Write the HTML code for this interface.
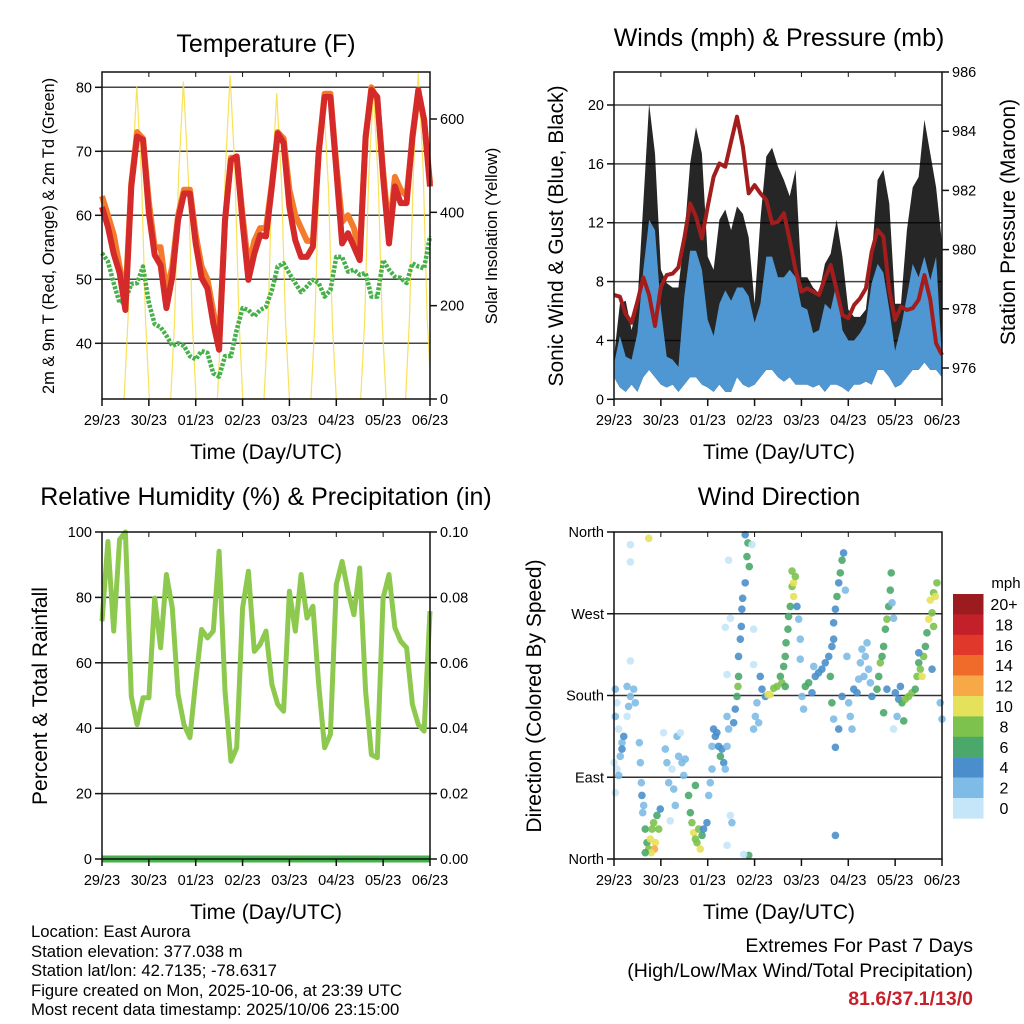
<!DOCTYPE html>
<html><head><meta charset="utf-8"><title>Weather station 7-day summary</title>
<style>
html,body{margin:0;padding:0;background:#fff;}
svg{display:block;font-family:"Liberation Sans",Arial,sans-serif;}
</style></head>
<body>
<svg id="chart" width="1024" height="1024" viewBox="0 0 1024 1024" xmlns="http://www.w3.org/2000/svg">
<g id="layer"></g>
<text x="266" y="52" font-size="25" text-anchor="middle">Temperature (F)</text>
<text x="779" y="46" font-size="25" text-anchor="middle">Winds (mph) &amp; Pressure (mb)</text>
<text x="266" y="505" font-size="25" text-anchor="middle">Relative Humidity (%) &amp; Precipitation (in)</text>
<text x="779" y="505" font-size="25" text-anchor="middle">Wind Direction</text>
<text x="266" y="459" font-size="21" text-anchor="middle">Time (Day/UTC)</text>
<text x="779" y="459" font-size="21" text-anchor="middle">Time (Day/UTC)</text>
<text x="266" y="919" font-size="21" text-anchor="middle">Time (Day/UTC)</text>
<text x="779" y="919" font-size="21" text-anchor="middle">Time (Day/UTC)</text>
<text transform="translate(54,236) rotate(-90)" font-size="16.4" text-anchor="middle">2m &amp; 9m T (Red, Orange) &amp; 2m Td (Green)</text>
<text transform="translate(497,236) rotate(-90)" font-size="16.5" text-anchor="middle">Solar Insolation (Yellow)</text>
<text transform="translate(563,236) rotate(-90)" font-size="21" text-anchor="middle">Sonic Wind &amp; Gust (Blue, Black)</text>
<text transform="translate(1015,222) rotate(-90)" font-size="21" text-anchor="middle">Station Pressure (Maroon)</text>
<text transform="translate(47,696) rotate(-90)" font-size="21" text-anchor="middle">Percent &amp; Total Rainfall</text>
<text transform="translate(541,696) rotate(-90)" font-size="21" text-anchor="middle">Direction (Colored By Speed)</text>
<g font-size="16.7">
<text x="31" y="937">Location: East Aurora</text>
<text x="31" y="957">Station elevation: 377.038 m</text>
<text x="31" y="976">Station lat/lon: 42.7135; -78.6317</text>
<text x="31" y="996">Figure created on Mon, 2025-10-06, at 23:39 UTC</text>
<text x="31" y="1015">Most recent data timestamp: 2025/10/06 23:15:00</text>
</g>
<text x="973" y="952" font-size="19.5" text-anchor="end">Extremes For Past 7 Days</text>
<text x="973" y="977" font-size="19.5" text-anchor="end">(High/Low/Max Wind/Total Precipitation)</text>
<text x="973" y="1005" font-size="19.5" font-weight="bold" fill="#c8202a" text-anchor="end">81.6/37.1/13/0</text>
<text x="1006" y="588" font-size="15" text-anchor="middle">mph</text>
</svg>
<script>
// ---------- data ----------
const dayLabels = ["29/23","30/23","01/23","02/23","03/23","04/23","05/23","06/23"];
const tempHourStep = 3;
const temp2m = [61.3,58.2,54,51,45.2,64.5,72.3,71.8,60.3,53.8,52.2,45.5,50.4,59.3,63.4,63.4,55.6,50.2,48.6,43.1,39,59.3,68.6,69.2,58.8,49.9,54,56.9,56.7,64.5,72.8,71.3,61.3,56.1,53.5,53.5,55.1,69.7,78.5,78.5,67.1,55.6,57.2,55.1,53,72.3,79.6,78.5,66,55.6,64.5,61.9,61.9,72.3,79.6,74.9,64.5];
const temp9m = [63,60,57,52,47,65,73,72,62,55,55,48,52,60,64,64,57,52,50,45,40,59,69,69,60,52,56,58,58,65,73,72,64,60,58,56,56,70,79,79,68,59,60,58,54,72,80,78,67,57,66,64,63,72,79,75,65];
const dew2m = [54.1,52.8,49.4,46.3,46.8,49.3,49.4,52,46.3,43,42.5,41.2,39.6,40,39.6,38,37.5,38.8,38.5,35.3,34.8,38,38,42.1,45.5,45.2,44.2,45.2,45.7,48.3,52,52.5,50.9,49.4,48,48.9,49.9,49.4,47.3,48.3,53.5,53.5,51.2,51.5,50.7,51,47.3,47.3,53,51.5,50.4,50.2,49.4,52.5,52,51.7,56.7];
const solarHours = [11.3,13.3,15.3,17.8,20.3,22.3,24.3, 35.2,37.2,39.2,41.7,44.2,46.2,48.2, 59.1,61.1,63.1,65.6,68.1,70.1,72.1, 83,85,87,89.5,92,94,96, 107,109,111,113.5,116,118,120, 132.5,134.5,136.5,139,141.5,143.5,145.5, 155.5,157.5,159.5,162,164.5,166.5,168];
const solarValues = [0,170,470,669,470,170,0, 0,170,475,680,475,170,0, 0,175,485,694,485,175,0, 0,165,460,655,460,165,0, 0,160,450,644,450,160,0, 0,165,465,662,465,165,0, 0,175,490,698,490,175,60];
const windHourStep = 3;
const pressure = [978.47,978.41,977.82,977.53,978.24,979.06,978.47,977.42,978.75,979.14,979.19,979.4,980.38,981.56,981.11,980.38,981.45,982.46,982.91,982.8,983.65,984.49,983.48,981.9,982.18,981.9,981.68,980.89,980.94,981.23,980.32,979.31,978.58,978.69,978.58,978.47,979.03,979.48,978.64,977.79,977.68,978.13,978.35,978.69,979.93,980.66,980.44,978.64,977.62,978.07,977.96,978.02,978.3,979.14,978.3,976.83,976.44];
const windTop = [2.4,4.3,2.9,2.7,4.5,8.8,12.2,11.5,6.1,2.9,2.7,2.2,7,10.1,10.1,8.8,5.4,4.3,6.5,7.4,6.7,7.6,7.6,7,5.2,6.5,9.7,9.7,8.3,8.3,8.8,8.3,6.3,6.1,4.5,4.7,6.5,6.1,7.9,4.7,4,4,4.5,5.2,7.9,9.2,8.6,6.1,3.3,4.9,7,9.2,8.3,9.7,8.1,9.7,2.7];
const windLow = [1.5,0.8,0.5,1,0.5,1.5,2,1.5,1,0.8,1,0.5,1,1.5,1.5,1,0.8,0.5,1,0.5,0.5,1.5,1,0.8,1,1.5,2,2,1.5,1.2,1.5,1,1,1,0.8,1,0.5,1,1,0.8,0.5,1,1,1.2,1,2,2,1.5,0.8,1,1.5,2,2,2.5,2,2,1.5];
const gustTop = [2.9,6.5,6.7,4.7,6.5,13.3,20.1,16.7,8.8,7.9,7.6,7.6,11,16,18.5,16.7,9.7,8.8,12.2,12.9,11.5,13.1,12.6,11,6.5,12.2,16.5,17.1,15.8,14.9,13.8,15.6,8.3,8.3,7.6,7.2,9.2,9.9,12.2,9.7,6.1,5.6,5.6,6.1,9.7,14.9,15.6,13.3,6.5,6.5,11.5,14.4,15.1,19,16.7,14.4,10.6];
const rhHourStep = 3;
const relHum = [72.7,97.1,69.7,97.7,100,49.8,41.1,49.3,49.3,79.8,64.6,87,76.8,50.3,41.1,37.1,54.4,70.2,67.6,69.7,94.1,51.3,29.9,34,76.8,88,63.5,65.6,69.7,53.4,47.3,45.2,81.9,69.7,87,73.7,77.3,53.4,34,38.1,83.9,91,81.9,74.7,89,51.3,31.9,31,79.8,87,70.7,66.6,64.6,47.3,41.1,39.1,75.8];
const precip = [0,0,0,0,0,0,0,0];
const dirHours = [0.7,1.5,0.7,2.4,0,1.5,3.2,4.1,5,4.1,2.4,0.7, 6.7,8.4,10.1,7.5,10.9,6.7,8.4,8.4,17.8,8.4, 13,13.5,14,14.3,14.7,15.2, 16,16.9,17.8,18.6,19.5,20.3,21.2,20.7,22,22.9,23.7,19.1,16, 25.4,26.3,27.1,28,29.7,30.6,31.4,28.8,32.3,33.1,34,34.8,35.7,36.5, 38.2,39.1,39.9,40.8,41.7,42.5,43.4,44.2,45.1,41.7,45.9,47.6,48.5,49.3,50.2,50.2, 51,51.9,52.7,53.6,54.5,55.3,56.2,57,57.9,58.7,57.9,59.6,60.4,57.9,58.7,57.9,57,59.6, 61.3,62.1,63,63.5,63.8,63.8,64.7,65.2,65.5,65.9,67.2,68.1,68.6,69.3,67.2,70.7,69,66.4,71.5,71.5, 71.5,72.4,73.2,74.9,75.8,77.5,78.9,80,74.1, 81.8,83.5,85.2,86,86.9,87.7,88.1,89.1,89.4,90.3,91.2,92,92,91.2,92.9,93.7,94.6,95.4,95.4,87.7, 96.3,97.1,98,99.7,101.4,103.1,104.8,106.5,108.2,110,110.8,111.6,112.5,112.5,113.4,114.2,115.1,115.9,116.8,117.6,118.5,111.6,112.5,113.4,113.4,102.3,115.1,116.8,119.3, 120.2,121,121.9,122.8,124.5,126.2,127,128.7,130.4,129.6,125.3,128,131.3,132.1, 134.7,135.6,136.4,137.3,138.1,139,139.8,140.7,141.5,142,142.4,143.2,138.1,139.8, 144.1,145,145.8,146.7,147.5,148.4,149.2,150.9,152.6,154.3,143.2, 155.2,156.1,156.9,157.8,158.6,159.5,160.3,161.2,162,162.9,163.7,164.6,165.4,163.7,162.9,167.1,168,156.1];
const dirDeg = [187,172,157,143,106,99,113,128,135,121,92,73, 190,179,187,168,172,157,346,327,353,218, 128,106,84,70,51,59, 33,18,11,22,33,40,18,11,48,33,55,7,7, 139,121,106,84,99,77,59,42,135,113,139,106,92,110, 70,51,40,29,22,18,33,11,26,81,33,40,70,84,99,124, 143,135,139,124,113,121,106,99,124,143,157,48,40,15,329,203,255,265, 150,165,179,190,201,223,242,256,275,287,304,333,348,322,357,346,4,5,214,253, 143,157,172,201,187,179,181,181,150, 188,190,201,194,212,223,238,253,267,278,300,304,289,317,311,278,264,242,220,190, 179,165,190,194,183,201,205,209,216,223,201,234,242,260,275,289,304,315,329,337,296,172,154,123,26,212,143,179,223, 172,157,143,187,183,216,231,223,209,238,198,201,194,179, 187,201,216,223,234,253,264,278,296,315,282,265,161,187, 183,157,176,190,172,152,176,179,183,187,143, 201,216,209,201,223,234,249,264,285,271,293,289,304,256,209,172,154,227];
const dirSpeed = [2,1,2,1,0,1,2,3,4,4,2,0, 2,2,2,2,2,1,1,1,10,1, 2,2,2,4,2,3, 6,6,8,10,8,8,10,12,6,8,4,10,6, 1,2,2,2,1,2,2,0,2,2,1,2,2,2, 6,6,8,10,8,8,8,10,6,6,4,4,3,2,2,3, 4,4,4,4,6,4,4,3,3,2,2,1,2,1,1,1,1,1, 4,4,6,8,6,4,4,4,4,4,4,6,6,6,4,1,6,1,1,1, 2,2,3,4,4,4,10,10,2, 8,8,6,8,6,6,6,6,6,6,8,10,10,8,8,4,2,2,2,6, 3,3,6,6,4,4,4,4,4,4,6,4,4,4,4,6,4,6,6,4,2,6,2,4,4,2,4,4,2, 2,2,2,4,4,2,2,2,2,2,2,2,2,4, 6,6,8,6,6,6,8,6,6,6,2,2,6,4, 4,2,4,4,6,6,8,8,8,6,1, 8,6,8,10,8,6,6,10,10,8,8,10,8,8,4,2,2,4];
const cbLabels = ["20+","18","16","14","12","10","8","6","4","2","0"];
const cbColors = ["#9b1b1e","#c4202a","#e0382b","#f06a2a","#f7a847","#e6e15a","#7cc24c","#4aa86a","#4a8fcb","#7ebbe6","#c5e6f8"];

// ---------- helpers ----------
const NS = "http://www.w3.org/2000/svg";
const layer = document.getElementById("layer");
function mk(tag, attrs, parent) {
  const e = document.createElementNS(NS, tag);
  for (const k in attrs) e.setAttribute(k, attrs[k]);
  (parent || layer).appendChild(e);
  return e;
}
function lin(d0, d1, r0, r1) { return v => r0 + (v - d0) * (r1 - r0) / (d1 - d0); }
function pathFrom(xs, ys) { return xs.map((x, i) => (i ? "L" : "M") + x.toFixed(1) + "," + ys[i].toFixed(1)).join(""); }

function panel(name, x0, x1, y0, y1) {
  const g = mk("g", {});
  
  
  return { g, x0, x1, y0, y1, xs: lin(0, 168, x0, x1) };
}
function gridY(p, scale, vals, color) {
  vals.forEach(v => {
    const y = scale(v);
    const l = mk("line", { x1: p.x0, x2: p.x1, y1: y, y2: y, stroke: color || "#333", "stroke-width": 1.5 }, p.g);
    
    
  });
}
function frame(p) {
  const r = mk("rect", { x: p.x0, y: p.y0, width: p.x1 - p.x0, height: p.y1 - p.y0, fill: "none", stroke: "#111", "stroke-width": 1.5 }, p.g);
  
  
  const ax = mk("g", {}, p.g);
  
  
  dayLabels.forEach((lab, i) => {
    const x = p.xs(i * 24);
    mk("line", { x1: x, x2: x, y1: p.y1, y2: p.y1 + 7, stroke: "#111", "stroke-width": 1.5 }, ax);
    const t = mk("text", { x: x, y: p.y1 + 26, "font-size": 14.5, "text-anchor": "middle" }, ax);
    t.textContent = lab;
    
    
    mk("line", { x1: x, x2: x, y1: p.y0, y2: p.y0 + 5, stroke: "#111", "stroke-width": 1 }, ax);
  });
}
function yAxis(p, scale, vals, labels, side, nm) {
  const ax = mk("g", {}, p.g);
  
  
  vals.forEach((v, i) => {
    const y = scale(v);
    const xa = side === "left" ? p.x0 : p.x1;
    const dx = side === "left" ? -7 : 7;
    mk("line", { x1: xa, x2: xa + dx, y1: y, y2: y, stroke: "#111", "stroke-width": 1.5 }, ax);
    const t = mk("text", { x: side === "left" ? xa - 10 : xa + 10, y: y + 5, "font-size": 14.5, "text-anchor": side === "left" ? "end" : "start" }, ax);
    t.textContent = labels[i];
    
    
  });
}

// ---------- Panel 1: temperature ----------
(function () {
  const p = panel("temperature-panel", 102, 430, 72, 399);
  const ty = lin(80, 40, 87.3, 343.3);
  const sy = lin(0, 600, 399, 119);
  gridY(p, ty, [40, 50, 60, 70, 80], "#444");
  const tHours = temp2m.map((_, i) => i * tempHourStep);
  const sol = mk("path", { d: pathFrom(solarHours.map(p.xs), solarValues.map(sy)), fill: "none", stroke: "#f8dc3c", "stroke-width": 1.2, opacity: 0.85 }, p.g);
  
  
  const dl = mk("path", { d: pathFrom(tHours.map(p.xs), dew2m.map(ty)), fill: "none", stroke: "#46b04a", "stroke-width": 4.5, "stroke-linejoin": "round", "stroke-dasharray": "3 1.5" }, p.g);
  
  
  const ol = mk("path", { d: pathFrom(tHours.map(p.xs), temp9m.map(ty)), fill: "none", stroke: "#f47b2b", "stroke-width": 6, "stroke-linejoin": "round" }, p.g);
  
  
  const rl = mk("path", { d: pathFrom(tHours.map(p.xs), temp2m.map(ty)), fill: "none", stroke: "#d42a2a", "stroke-width": 6, "stroke-linejoin": "round" }, p.g);
  
  
  frame(p);
  yAxis(p, ty, [40, 50, 60, 70, 80], ["40", "50", "60", "70", "80"], "left", "temperature-y-axis");
  yAxis(p, sy, [0, 200, 400, 600], ["0", "200", "400", "600"], "right", "solar-y-axis");
})();

// ---------- Panel 2: winds & pressure ----------
(function () {
  const p = panel("winds-panel", 614, 942, 72, 399);
  const wy = lin(0, 20, 399.3, 105);
  const py = lin(976, 986, 368, 72);
  gridY(p, wy, [4, 8, 12, 16, 20], "#444");
  const h = windTop.map((_, i) => i * windHourStep);
  const xs = h.map(p.xs);
  const gust = mk("path", { d: pathFrom(xs, gustTop.map(wy)) + pathFrom(xs.slice().reverse(), windLow.slice().reverse().map(wy)).replace("M", "L") + "Z", fill: "#000", opacity: 0.85 }, p.g);
  
  
  const wind = mk("path", { d: pathFrom(xs, windTop.map(wy)) + pathFrom(xs.slice().reverse(), windLow.slice().reverse().map(wy)).replace("M", "L") + "Z", fill: "#4f97d3" }, p.g);
  
  
  const pl = mk("path", { d: pathFrom(xs, pressure.map(py)), fill: "none", stroke: "#a31d1d", "stroke-width": 4, "stroke-linejoin": "round" }, p.g);
  
  
  frame(p);
  yAxis(p, wy, [0, 4, 8, 12, 16, 20], ["0", "4", "8", "12", "16", "20"], "left", "wind-y-axis");
  yAxis(p, py, [976, 978, 980, 982, 984, 986], ["976", "978", "980", "982", "984", "986"], "right", "pressure-y-axis");
})();

// ---------- Panel 3: humidity & precip ----------
(function () {
  const p = panel("humidity-panel", 102, 430, 532, 859);
  const ry = lin(0, 100, 859, 532);
  const qy = lin(0, 0.1, 859, 532);
  gridY(p, ry, [20, 40, 60, 80], "#333");
  const h = relHum.map((_, i) => i * rhHourStep);
  const rl = mk("path", { d: pathFrom(h.map(p.xs), relHum.map(ry)), fill: "none", stroke: "#8dc94e", "stroke-width": 5, "stroke-linejoin": "round" }, p.g);
  
  
  const ph = precip.map((_, i) => i * 24);
  const pl = mk("path", { d: pathFrom(ph.map(p.xs), precip.map(qy)), fill: "none", stroke: "#46b04a", "stroke-width": 7 }, p.g);
  
  
  frame(p);
  yAxis(p, ry, [0, 20, 40, 60, 80, 100], ["0", "20", "40", "60", "80", "100"], "left", "humidity-y-axis");
  yAxis(p, qy, [0, 0.02, 0.04, 0.06, 0.08, 0.1], ["0.00", "0.02", "0.04", "0.06", "0.08", "0.10"], "right", "precip-y-axis");
})();

// ---------- Panel 4: wind direction ----------
(function () {
  const p = panel("wind-direction-panel", 614, 942, 532, 859);
  const dy = lin(0, 360, 859, 532);
  gridY(p, dy, [90, 180, 270], "#333");
  const palette = cbColors.slice().reverse();
  dirHours.forEach((hr, i) => {
    const idx = Math.min(10, Math.floor(dirSpeed[i] / 2));
    const c = mk("circle", { cx: p.xs(hr), cy: dy(dirDeg[i]), r: 3.8, fill: palette[idx], opacity: 0.9 }, p.g);
    
    
  });
  frame(p);
  yAxis(p, dy, [0, 90, 180, 270, 360], ["North", "East", "South", "West", "North"], "left", "direction-y-axis");
  const cb = mk("g", {});
  
  
  cbColors.forEach((col, i) => {
    const y = 594 + i * 20.4;
    const r = mk("rect", { x: 953, y: y, width: 30.5, height: 20.6, fill: col }, cb);
    
    
    const t = mk("text", { x: 1004, y: y + 16, "font-size": 16, "text-anchor": "middle" }, cb);
    t.textContent = cbLabels[i];
    
    
  });
})();
</script>
</body></html>
